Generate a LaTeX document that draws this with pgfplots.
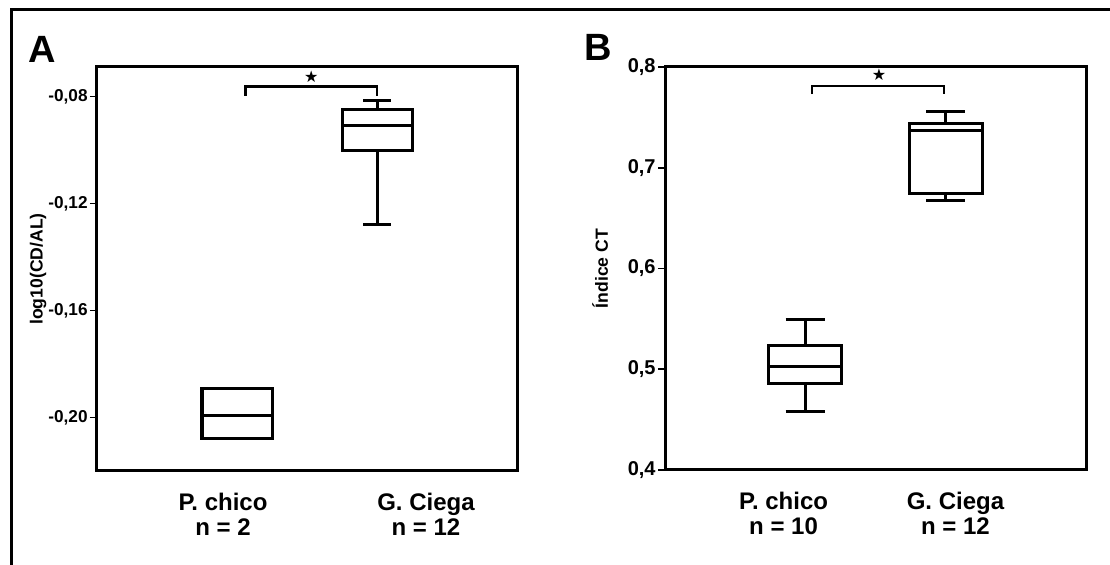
\documentclass[border=0pt]{standalone}
\usepackage{fontspec}
\setmainfont{Liberation Sans}
\newfontfamily\symfont{DejaVu Sans}
\usepackage{pgfplots}
\pgfplotsset{compat=1.18}
\usepgfplotslibrary{statistics}
\begin{document}
\begin{tikzpicture}
\useasboundingbox (0,0) rectangle (555pt,282.5pt);
% outer frame (top and left)
\draw[line width=1.5pt] (5.75pt,0) -- (5.75pt,277.5pt) -- (555pt,277.5pt);
\node[font=\bfseries\fontsize{19}{19}\selectfont, anchor=base west, inner sep=0pt] at (14pt,251pt) {A};
\node[font=\bfseries\fontsize{19}{19}\selectfont, anchor=base west, inner sep=0pt] at (292pt,252pt) {B};
\pgfplotsset{
  mystyle/.style={
    scale only axis,
    xmin=0, xmax=3,
    clip=false,
    axis line style={line width=1.5pt},
    tick align=outside,
    ytick pos=left,
    major tick length=3.5pt,
    ytick style={line width=0.8pt, black},
    xtick style={draw=none},
    xticklabel style={align=center, font=\bfseries\fontsize{12}{12.5}\selectfont, yshift=-4pt},
    ylabel style={font=\bfseries\fontsize{8.8}{10}\selectfont, anchor=center},
    boxplot/draw direction=y,
  },
  mybox/.style={black, solid, line width=1.5pt, mark=none},
}
% Panel A
\begin{axis}[mystyle,
  at={(48.5pt,47pt)}, width=210pt, height=202pt,
  ymin=-0.22, ymax=-0.069,
  ytick={-0.20,-0.16,-0.12,-0.08},
  yticklabels={{-0,20},{-0,16},{-0,12},{-0,08}},
  yticklabel style={font=\bfseries\fontsize{8.6}{10}\selectfont, inner sep=1pt},
  xtick={0.9,2.35},
  xticklabels={{P. chico\\n = 2},{G. Ciega\\n = 12}},
  ylabel={log10(CD/AL)},
  ylabel style={at={(axis description cs:-0.14,0.5)}},
]
\addplot[mybox, boxplot prepared={draw position=1, lower whisker=-0.208, lower quartile=-0.208, median=-0.1993, upper quartile=-0.189, upper whisker=-0.189, box extend=0.5, whisker extend=0.001}] coordinates {};
\addplot[mybox, boxplot prepared={draw position=2, lower whisker=-0.128, lower quartile=-0.1004, median=-0.0908, upper quartile=-0.0849, upper whisker=-0.0817, box extend=0.5, whisker extend=0.2}] coordinates {};
\addplot[black, line width=1.4pt, mark=none] coordinates {(1.06,-0.0797) (1.06,-0.0763) (2.0,-0.0763) (2.0,-0.0797)};
\node[font=\symfont\fontsize{8}{8}\selectfont, inner sep=0pt] at (axis cs:1.53,-0.0725) {★};
\end{axis}
% Panel B
\begin{axis}[mystyle,
  at={(332.5pt,47.5pt)}, width=210.5pt, height=201.5pt,
  ymin=0.4, ymax=0.8,
  ytick={0.4,0.5,0.6,0.7,0.8},
  yticklabels={{0,4},{0,5},{0,6},{0,7},{0,8}},
  yticklabel style={font=\bfseries\fontsize{10}{11}\selectfont, inner sep=1pt},
  xtick={0.845,2.07},
  xticklabels={{P. chico\\n = 10},{G. Ciega\\n = 12}},
  ylabel={Índice CT},
  ylabel style={at={(axis description cs:-0.154,0.5)}},
]
\addplot[mybox, boxplot prepared={draw position=1, lower whisker=0.458, lower quartile=0.486, median=0.503, upper quartile=0.524, upper whisker=0.549, box extend=0.52, whisker extend=0.28}] coordinates {};
\addplot[mybox, boxplot prepared={draw position=2, lower whisker=0.667, lower quartile=0.674, median=0.737, upper quartile=0.744, upper whisker=0.756, box extend=0.52, whisker extend=0.28}] coordinates {};
\addplot[black, line width=0.9pt, mark=none] coordinates {(1.05,0.773) (1.05,0.7815) (1.99,0.7815) (1.99,0.773)};
\node[font=\symfont\fontsize{8}{8}\selectfont, inner sep=0pt] at (axis cs:1.525,0.792) {★};
\end{axis}
\end{tikzpicture}
\end{document}
